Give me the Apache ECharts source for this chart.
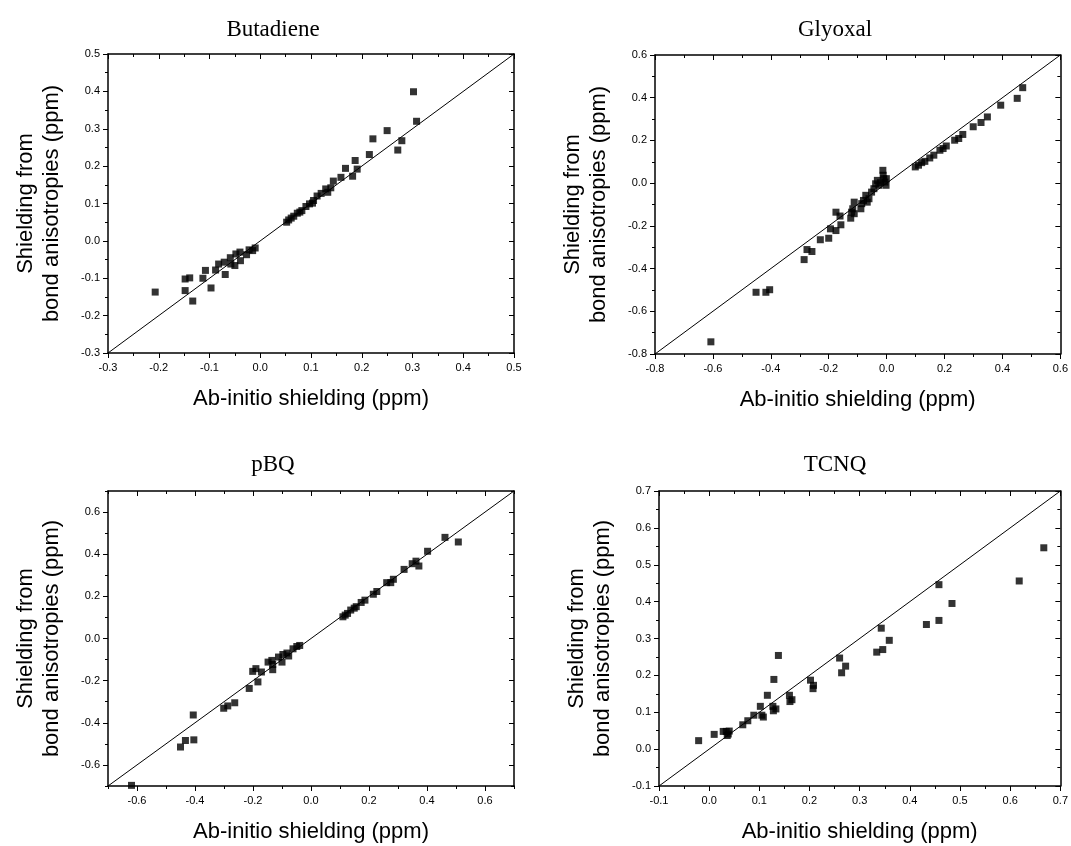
<!DOCTYPE html>
<html><head><meta charset="utf-8">
<script src="https://cdn.jsdelivr.net/npm/echarts@6/dist/echarts.min.js"></script>
<style>html,body{margin:0;padding:0;background:#fff}#c{width:1071px;height:846px}</style>
</head><body><div id="c"></div>
<script>
// ---------- DATA ----------
const panelTitles = ['Butadiene', 'Glyoxal', 'pBQ', 'TCNQ'];
const xAxisTitle = 'Ab-initio shielding (ppm)';
const yAxisTitle = 'Shielding from\nbond anisotropies (ppm)';

// axis ranges
const butadieneRange = [-0.3, 0.5];
const glyoxalRange = [-0.8, 0.6];
const pbqRange = [-0.7, 0.7];
const tcnqRange = [-0.1, 0.7];

// tick values (major = labelled, minor = short ticks)
const butadieneMajor = [-0.3, -0.2, -0.1, 0.0, 0.1, 0.2, 0.3, 0.4, 0.5];
const butadieneMinor = [-0.25, -0.15, -0.05, 0.05, 0.15, 0.25, 0.35, 0.45];
const glyoxalMajor = [-0.8, -0.6, -0.4, -0.2, 0.0, 0.2, 0.4, 0.6];
const glyoxalMinor = [-0.7, -0.5, -0.3, -0.1, 0.1, 0.3, 0.5];
const pbqMajor = [-0.6, -0.4, -0.2, 0.0, 0.2, 0.4, 0.6];
const pbqMinor = [-0.7, -0.5, -0.3, -0.1, 0.1, 0.3, 0.5, 0.7];
const tcnqMajor = [-0.1, 0.0, 0.1, 0.2, 0.3, 0.4, 0.5, 0.6, 0.7];
const tcnqMinor = [-0.05, 0.05, 0.15, 0.25, 0.35, 0.45, 0.55, 0.65];

// Butadiene: ab-initio shielding (x) vs shielding from bond anisotropies (y)
const butadieneAbInitio = [-0.207, -0.148, -0.139, -0.148, -0.133, -0.113, -0.108, -0.097, -0.088, -0.082,
  -0.069, -0.071, -0.059, -0.058, -0.050, -0.048, -0.040, -0.039, -0.027, -0.022, -0.015, -0.010,
  0.052, 0.056, 0.061, 0.066, 0.073, 0.078, 0.082, 0.090, 0.097, 0.103, 0.105, 0.112, 0.120, 0.129,
  0.133, 0.139, 0.144, 0.159, 0.168, 0.182, 0.187, 0.191, 0.215, 0.222, 0.250, 0.271, 0.279, 0.302, 0.308];
const butadieneBond = [-0.137, -0.102, -0.099, -0.133, -0.161, -0.100, -0.079, -0.126, -0.078, -0.062,
  -0.090, -0.057, -0.045, -0.062, -0.066, -0.035, -0.030, -0.053, -0.037, -0.024, -0.026, -0.019,
  0.050, 0.056, 0.061, 0.066, 0.074, 0.077, 0.081, 0.092, 0.099, 0.101, 0.108, 0.120, 0.127, 0.139,
  0.130, 0.142, 0.160, 0.170, 0.194, 0.173, 0.215, 0.192, 0.231, 0.273, 0.295, 0.243, 0.268, 0.399, 0.320];

// Glyoxal
const glyoxalAbInitio = [-0.607, -0.451, -0.417, -0.404, -0.285, -0.275, -0.258, -0.229, -0.200, -0.194,
  -0.175, -0.175, -0.161, -0.158, -0.124, -0.121, -0.117, -0.112, -0.112, -0.089, -0.086, -0.080,
  -0.072, -0.067, -0.061, -0.052, -0.044, -0.038, -0.032, -0.027, -0.021, -0.013, -0.012, -0.010,
  -0.006, -0.002, -0.001, 0.099, 0.110, 0.121, 0.132, 0.149, 0.163, 0.184, 0.195, 0.206, 0.235,
  0.249, 0.263, 0.299, 0.326, 0.348, 0.394, 0.451, 0.470];
const glyoxalBond = [-0.743, -0.511, -0.511, -0.499, -0.358, -0.311, -0.320, -0.265, -0.258, -0.214,
  -0.222, -0.136, -0.154, -0.195, -0.164, -0.136, -0.120, -0.089, -0.143, -0.120, -0.096, -0.081,
  -0.057, -0.089, -0.073, -0.042, -0.026, -0.003, 0.013, -0.010, 0.002, 0.060, 0.037, 0.021,
  0.005, -0.010, 0.021, 0.076, 0.084, 0.096, 0.102, 0.118, 0.131, 0.154, 0.162, 0.174, 0.201,
  0.209, 0.228, 0.264, 0.284, 0.310, 0.365, 0.397, 0.447];

// pBQ
const pbqAbInitio = [-0.619, -0.450, -0.433, -0.404, -0.406, -0.301, -0.287, -0.263, -0.213, -0.201,
  -0.190, -0.183, -0.171, -0.148, -0.135, -0.132, -0.132, -0.112, -0.100, -0.097, -0.083, -0.077,
  -0.062, -0.049, -0.039, 0.110, 0.118, 0.126, 0.137, 0.149, 0.156, 0.173, 0.186, 0.215, 0.227,
  0.261, 0.275, 0.284, 0.321, 0.349, 0.362, 0.372, 0.402, 0.462, 0.508];
const pbqBond = [-0.697, -0.515, -0.484, -0.481, -0.363, -0.331, -0.320, -0.305, -0.237, -0.156,
  -0.143, -0.206, -0.159, -0.112, -0.104, -0.148, -0.123, -0.088, -0.112, -0.076, -0.069, -0.083,
  -0.049, -0.038, -0.033, 0.103, 0.111, 0.119, 0.135, 0.144, 0.151, 0.171, 0.182, 0.210, 0.223,
  0.265, 0.265, 0.281, 0.328, 0.355, 0.367, 0.344, 0.414, 0.480, 0.458];

// TCNQ
const tcnqAbInitio = [-0.021, 0.010, 0.028, 0.034, 0.038, 0.040, 0.036, 0.067, 0.077, 0.089, 0.102,
  0.105, 0.108, 0.116, 0.127, 0.128, 0.129, 0.133, 0.138, 0.160, 0.161, 0.165, 0.202, 0.207, 0.208,
  0.260, 0.264, 0.272, 0.334, 0.346, 0.343, 0.359, 0.433, 0.458, 0.458, 0.484, 0.618, 0.667];
const tcnqBond = [0.023, 0.040, 0.048, 0.048, 0.041, 0.049, 0.037, 0.066, 0.077, 0.092, 0.116,
  0.092, 0.087, 0.146, 0.116, 0.104, 0.189, 0.109, 0.254, 0.146, 0.129, 0.134, 0.187, 0.164, 0.173,
  0.247, 0.207, 0.225, 0.263, 0.270, 0.328, 0.295, 0.338, 0.349, 0.446, 0.395, 0.456, 0.546];

// ---------- LAYOUT ----------
const panels = [
  {range: butadieneRange, major: butadieneMajor, minor: butadieneMinor, xs: butadieneAbInitio, ys: butadieneBond,
   grid: {left: 108, top: 54, width: 406, height: 299}, titlePos: [268, 13]},
  {range: glyoxalRange, major: glyoxalMajor, minor: glyoxalMinor, xs: glyoxalAbInitio, ys: glyoxalBond,
   grid: {left: 655, top: 55, width: 407, height: 299}, titlePos: [830, 13]},
  {range: pbqRange, major: pbqMajor, minor: pbqMinor, xs: pbqAbInitio, ys: pbqBond,
   grid: {left: 108, top: 491, width: 406, height: 297}, titlePos: [268, 448]},
  {range: tcnqRange, major: tcnqMajor, minor: tcnqMinor, xs: tcnqAbInitio, ys: tcnqBond,
   grid: {left: 659, top: 491, width: 404, height: 298}, titlePos: [830, 448]}
];

const SANS = "'Liberation Sans', Arial, sans-serif";
const SERIF = "'Liberation Serif', 'Times New Roman', serif";

function makeAxes(gi, p, dim) {
  const isX = dim === 'x';
  const mainPos = isX ? 'bottom' : 'left';
  const oppPos = isX ? 'top' : 'right';
  const base = {type: 'value', gridIndex: gi, min: p.range[0], max: p.range[1],
    splitLine: {show: false}, axisLabel: {show: false}};
  const line = {show: true, onZero: false, lineStyle: {color: '#000', width: 1.5}};
  const noLine = {show: false, onZero: false};
  const main = Object.assign({}, base, {
    position: mainPos,
    axisLine: line,
    axisTick: {show: true, inside: false, length: 5, customValues: p.major, lineStyle: {color: '#000', width: 1}},
    axisLabel: {show: true, customValues: p.major, formatter: v => v.toFixed(1),
      fontFamily: SANS, fontSize: 11, color: '#000', margin: isX ? 9 : 8},
    name: isX ? xAxisTitle : yAxisTitle,
    nameLocation: 'middle',
    nameGap: isX ? 33 : 43,
    nameRotate: isX ? 0 : 90,
    nameTextStyle: {fontFamily: SANS, fontSize: 22, color: '#000', lineHeight: 26}
  });
  const mainMinor = Object.assign({}, base, {
    position: mainPos, axisLine: noLine,
    axisTick: {show: true, inside: false, length: 3, customValues: p.minor, lineStyle: {color: '#000', width: 1}}
  });
  const opp = Object.assign({}, base, {
    position: oppPos, axisLine: line,
    axisTick: {show: true, inside: true, length: 5, customValues: p.major, lineStyle: {color: '#000', width: 1}}
  });
  const oppMinor = Object.assign({}, base, {
    position: oppPos, axisLine: noLine,
    axisTick: {show: true, inside: true, length: 3, customValues: p.minor, lineStyle: {color: '#000', width: 1}}
  });
  return [main, mainMinor, opp, oppMinor];
}

const grids = [], xAxes = [], yAxes = [], series = [], titles = [];
panels.forEach((p, i) => {
  grids.push(Object.assign({containLabel: false}, p.grid));
  xAxes.push(...makeAxes(i, p, 'x'));
  yAxes.push(...makeAxes(i, p, 'y'));
  titles.push({text: panelTitles[i], left: p.titlePos[0], top: p.titlePos[1], textAlign: 'center',
    textStyle: {fontFamily: SERIF, fontSize: 23, fontWeight: 'normal', color: '#000'}});
  series.push({
    type: 'line', xAxisIndex: 4 * i, yAxisIndex: 4 * i, symbol: 'none', silent: true,
    data: [[p.range[0], p.range[0]], [p.range[1], p.range[1]]],
    lineStyle: {color: '#000', width: 1}, z: 1
  });
  series.push({
    type: 'scatter', xAxisIndex: 4 * i, yAxisIndex: 4 * i, symbol: 'rect', symbolSize: 7,
    itemStyle: {color: '#000'}, z: 2,
    data: p.xs.map((x, k) => [x, p.ys[k]])
  });
});

const chart = echarts.init(document.getElementById('c'), null, {renderer: 'canvas'});
chart.setOption({
  animation: false,
  backgroundColor: '#fff',
  title: titles,
  grid: grids,
  xAxis: xAxes,
  yAxis: yAxes,
  series: series
});
</script></body></html>
